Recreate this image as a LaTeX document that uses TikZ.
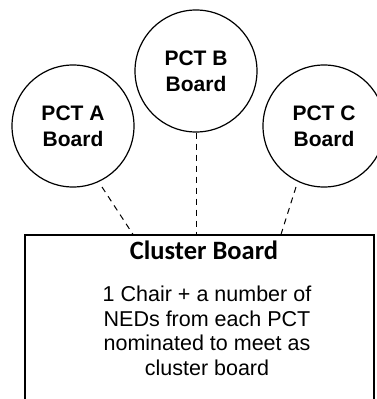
\documentclass[tikz,border=0pt]{standalone}
\usepackage{fontspec}
\setmainfont{Liberation Sans}
\newfontfamily\calibri{Carlito}
\begin{document}
\begin{tikzpicture}[x=1pt,y=-1pt,
  board/.style={circle,draw,line width=1.2pt,minimum size=122pt,inner sep=0pt,align=center,
    font=\fontsize{21}{26}\selectfont\bfseries},
  link/.style={dashed,line width=1pt,dash pattern=on 6pt off 5pt}]
\useasboundingbox (0,0) rectangle (377,399);
\clip (0,0) rectangle (377,399);
\node[board] (A) at (73,126) {PCT A\\Board};
\node[board] (B) at (196,71) {PCT B\\Board};
\node[board] (C) at (324,126) {PCT C\\Board};
\node[draw,line width=1.2pt,minimum width=349pt,minimum height=200pt,inner sep=0pt] (box) at (199.5,335) {};
\node[font=\calibri\fontsize{26.5}{30}\selectfont\bfseries,anchor=base] (title) at (204,259) {Cluster Board};
\node[font=\fontsize{21.5}{24.4}\selectfont,align=center,anchor=base] (body) at (207,375) {1 Chair + a number of\\NEDs from each PCT\\nominated to meet as\\cluster board};
\coordinate (a1) at (102,187);
\coordinate (c1) at (296,187);
\draw[link] (a1) -- (box.north -| 133,0);
\draw[link] (B.south) -- (box.north -| B.south);
\draw[link] (c1) -- (box.north -| 281,0);
\end{tikzpicture}
\end{document}
